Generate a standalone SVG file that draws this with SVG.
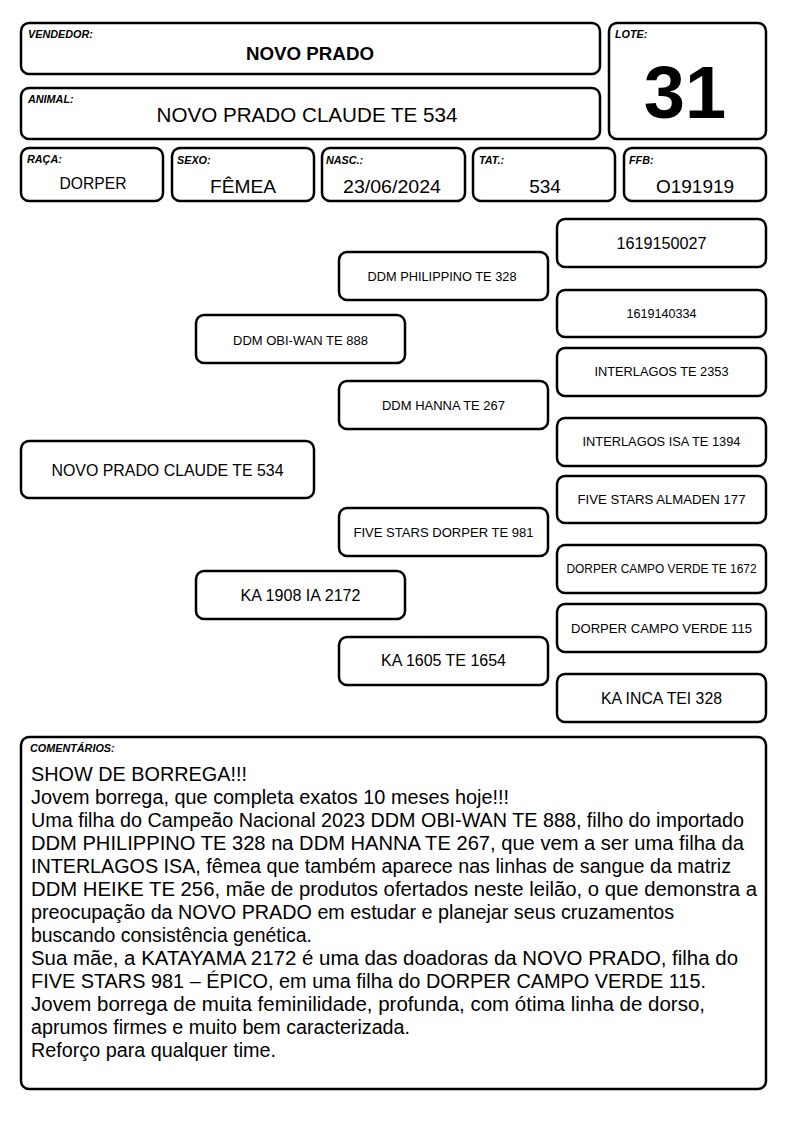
<svg xmlns="http://www.w3.org/2000/svg" width="794" height="1123" viewBox="0 0 794 1123">
<style>
  .box { fill: #ffffff; stroke: #000000; stroke-width: 2.5; }
  .lbl { font-family: "Liberation Sans", Arial, sans-serif; font-weight: bold; font-style: italic; font-size: 10.8px; fill: #000; }
  .val { font-family: "Liberation Sans", Arial, sans-serif; fill: #000; text-anchor: middle; }
  .ped { font-family: "Liberation Sans", Arial, sans-serif; fill: #000; text-anchor: middle; }
  .com { font-family: "Liberation Sans", Arial, sans-serif; font-size: 20px; fill: #000; }
</style>
<rect width="794" height="1123" fill="#ffffff"/>

<g id="vendedor">
  <rect class="box" x="21" y="23" width="579" height="51" rx="8"/>
  <text class="lbl" x="28" y="38">VENDEDOR:</text>
  <text class="val" x="310" y="60" font-size="18.5" font-weight="bold" textLength="128" lengthAdjust="spacingAndGlyphs">NOVO PRADO</text>
</g>
<g id="lote">
  <rect class="box" x="609" y="23" width="157" height="116" rx="8"/>
  <text class="lbl" x="615" y="38">LOTE:</text>
  <text class="val" x="685" y="118" font-size="74" font-weight="bold">31</text>
</g>
<g id="animal">
  <rect class="box" x="21" y="88" width="579" height="51" rx="8"/>
  <text class="lbl" x="28" y="103">ANIMAL:</text>
  <text class="val" x="307" y="122" font-size="20" textLength="301" lengthAdjust="spacingAndGlyphs">NOVO PRADO CLAUDE TE 534</text>
</g>
<g id="raca">
  <rect class="box" x="21" y="148" width="142" height="53" rx="8"/>
  <text class="lbl" x="27" y="163">RAÇA:</text>
  <text class="val" x="93" y="189" font-size="16.5" textLength="67" lengthAdjust="spacingAndGlyphs">DORPER</text>
</g>
<g id="sexo">
  <rect class="box" x="172" y="148" width="142" height="53" rx="8"/>
  <text class="lbl" x="177" y="164">SEXO:</text>
  <text class="val" x="243" y="193" font-size="19" textLength="66" lengthAdjust="spacingAndGlyphs">FÊMEA</text>
</g>
<g id="nasc">
  <rect class="box" x="322" y="148" width="143" height="53" rx="8"/>
  <text class="lbl" x="326" y="164">NASC.:</text>
  <text class="val" x="392" y="193" font-size="19" textLength="98" lengthAdjust="spacingAndGlyphs">23/06/2024</text>
</g>
<g id="tat">
  <rect class="box" x="473" y="148" width="142" height="53" rx="8"/>
  <text class="lbl" x="479" y="164">TAT.:</text>
  <text class="val" x="545" y="193" font-size="19">534</text>
</g>
<g id="ffb">
  <rect class="box" x="624" y="148" width="142" height="53" rx="8"/>
  <text class="lbl" x="629" y="164">FFB:</text>
  <text class="val" x="695" y="193" font-size="19">O191919</text>
</g>

<g id="p-1619150027">
  <rect class="box" x="557" y="219" width="209" height="48" rx="8"/>
  <text class="ped" x="661.5" y="249" font-size="16" textLength="90" lengthAdjust="spacingAndGlyphs">1619150027</text>
</g>
<g id="p-1619140334">
  <rect class="box" x="557" y="290" width="209" height="47" rx="8"/>
  <text class="ped" x="661.5" y="318" font-size="12.5" textLength="70" lengthAdjust="spacingAndGlyphs">1619140334</text>
</g>
<g id="p-interlagos-2353">
  <rect class="box" x="557" y="348" width="209" height="48" rx="8"/>
  <text class="ped" x="661.5" y="376" font-size="13" textLength="134" lengthAdjust="spacingAndGlyphs">INTERLAGOS TE 2353</text>
</g>
<g id="p-interlagos-isa">
  <rect class="box" x="557" y="418" width="209" height="48" rx="8"/>
  <text class="ped" x="661.5" y="446" font-size="13" textLength="158" lengthAdjust="spacingAndGlyphs">INTERLAGOS ISA TE 1394</text>
</g>
<g id="p-almaden">
  <rect class="box" x="557" y="476" width="209" height="47" rx="8"/>
  <text class="ped" x="661.5" y="504" font-size="13" textLength="168" lengthAdjust="spacingAndGlyphs">FIVE STARS ALMADEN 177</text>
</g>
<g id="p-dcv-1672">
  <rect class="box" x="557" y="545" width="209" height="48" rx="8"/>
  <text class="ped" x="661.5" y="573" font-size="12.5" textLength="190" lengthAdjust="spacingAndGlyphs">DORPER CAMPO VERDE TE 1672</text>
</g>
<g id="p-dcv-115">
  <rect class="box" x="557" y="604" width="209" height="48" rx="8"/>
  <text class="ped" x="661.5" y="633" font-size="13" textLength="181" lengthAdjust="spacingAndGlyphs">DORPER CAMPO VERDE 115</text>
</g>
<g id="p-ka-inca">
  <rect class="box" x="557" y="674" width="209" height="48" rx="8"/>
  <text class="ped" x="661.5" y="704" font-size="16" textLength="121" lengthAdjust="spacingAndGlyphs">KA INCA TEI 328</text>
</g>

<g id="p-philippino">
  <rect class="box" x="339" y="252" width="209" height="48" rx="8"/>
  <text class="ped" x="442" y="281" font-size="13" textLength="149" lengthAdjust="spacingAndGlyphs">DDM PHILIPPINO TE 328</text>
</g>
<g id="p-hanna">
  <rect class="box" x="339" y="381" width="209" height="48" rx="8"/>
  <text class="ped" x="443.5" y="410" font-size="13" textLength="123" lengthAdjust="spacingAndGlyphs">DDM HANNA TE 267</text>
</g>
<g id="p-fs-dorper">
  <rect class="box" x="339" y="508" width="209" height="48" rx="8"/>
  <text class="ped" x="443.5" y="537" font-size="13" textLength="180" lengthAdjust="spacingAndGlyphs">FIVE STARS DORPER TE 981</text>
</g>
<g id="p-ka-1605">
  <rect class="box" x="339" y="637" width="209" height="48" rx="8"/>
  <text class="ped" x="443.5" y="666" font-size="16" textLength="125" lengthAdjust="spacingAndGlyphs">KA 1605 TE 1654</text>
</g>

<g id="p-obiwan">
  <rect class="box" x="196" y="315" width="209" height="48" rx="8"/>
  <text class="ped" x="300.5" y="345" font-size="13" textLength="135" lengthAdjust="spacingAndGlyphs">DDM OBI-WAN TE 888</text>
</g>
<g id="p-ka-1908">
  <rect class="box" x="196" y="571" width="209" height="48" rx="8"/>
  <text class="ped" x="300.5" y="601" font-size="16" textLength="120" lengthAdjust="spacingAndGlyphs">KA 1908 IA 2172</text>
</g>

<g id="p-animal">
  <rect class="box" x="21" y="441" width="293" height="57" rx="8"/>
  <text class="ped" x="167.5" y="476" font-size="16" textLength="232" lengthAdjust="spacingAndGlyphs">NOVO PRADO CLAUDE TE 534</text>
</g>

<g id="connectors"></g>

<g id="comentarios">
  <rect class="box" x="21" y="737" width="745" height="352" rx="8"/>
  <text class="lbl" x="30" y="752" font-size="10">COMENTÁRIOS:</text>
  <text class="com" x="31" y="781" textLength="216" lengthAdjust="spacingAndGlyphs">SHOW DE BORREGA!!!</text>
  <text class="com" x="31" y="804" textLength="478" lengthAdjust="spacingAndGlyphs">Jovem borrega, que completa exatos 10 meses hoje!!!</text>
  <text class="com" x="31" y="827" textLength="713" lengthAdjust="spacingAndGlyphs">Uma filha do Campeão Nacional 2023 DDM OBI-WAN TE 888, filho do importado</text>
  <text class="com" x="31" y="850" textLength="713" lengthAdjust="spacingAndGlyphs">DDM PHILIPPINO TE 328 na DDM HANNA TE 267, que vem a ser uma filha da</text>
  <text class="com" x="31" y="873" textLength="700" lengthAdjust="spacingAndGlyphs">INTERLAGOS ISA, fêmea que também aparece nas linhas de sangue da matriz</text>
  <text class="com" x="31" y="896" textLength="726" lengthAdjust="spacingAndGlyphs">DDM HEIKE TE 256, mãe de produtos ofertados neste leilão, o que demonstra a</text>
  <text class="com" x="31" y="919" textLength="643" lengthAdjust="spacingAndGlyphs">preocupação da NOVO PRADO em estudar e planejar seus cruzamentos</text>
  <text class="com" x="31" y="942" textLength="281" lengthAdjust="spacingAndGlyphs">buscando consistência genética.</text>
  <text class="com" x="31" y="965" textLength="707" lengthAdjust="spacingAndGlyphs">Sua mãe, a KATAYAMA 2172 é uma das doadoras da NOVO PRADO, filha do</text>
  <text class="com" x="31" y="988" textLength="675" lengthAdjust="spacingAndGlyphs">FIVE STARS 981 – ÉPICO, em uma filha do DORPER CAMPO VERDE 115.</text>
  <text class="com" x="31" y="1011" textLength="674" lengthAdjust="spacingAndGlyphs">Jovem borrega de muita feminilidade, profunda, com ótima linha de dorso,</text>
  <text class="com" x="31" y="1034" textLength="379" lengthAdjust="spacingAndGlyphs">aprumos firmes e muito bem caracterizada.</text>
  <text class="com" x="31" y="1057" textLength="245" lengthAdjust="spacingAndGlyphs">Reforço para qualquer time.</text>
</g>
</svg>
